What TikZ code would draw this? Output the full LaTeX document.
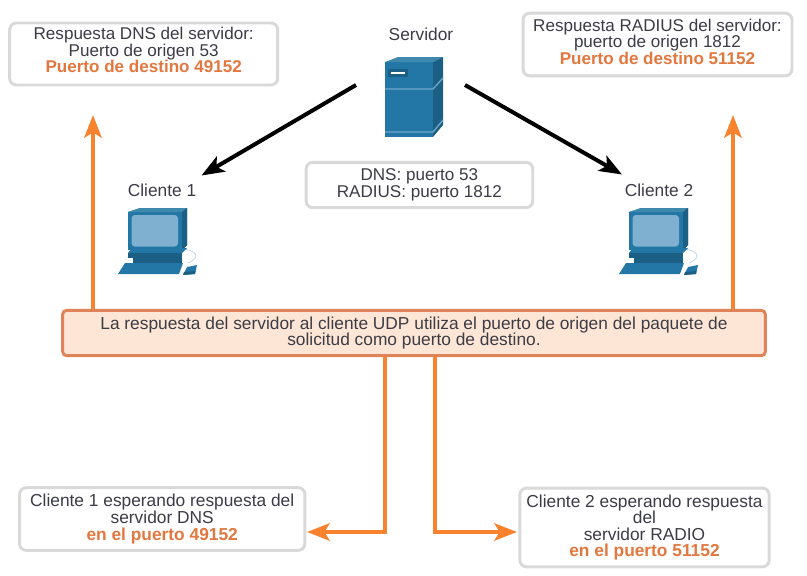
\documentclass[tikz,border=0pt]{standalone}
\usepackage{fontspec}
\setmainfont{Liberation Sans}
\usetikzlibrary{arrows.meta}

\definecolor{boxgray}{HTML}{D9D9D9}
\definecolor{txtgray}{HTML}{3C3C46}
\definecolor{linkorange}{HTML}{F8822E}
\definecolor{noteorange}{HTML}{E08358}
\definecolor{notefill}{HTML}{FDE6D6}
\definecolor{hiorange}{HTML}{E2783F}
\definecolor{hwfront}{HTML}{2277A6}
\definecolor{hwtop}{HTML}{3F88AE}
\definecolor{hwside}{HTML}{1B5F85}
\definecolor{hwscreen}{HTML}{7FB0D0}
\definecolor{hwline}{HTML}{6FA8C8}

\newcommand{\hilite}[1]{\textcolor{hiorange}{\bfseries #1}}

\tikzset{every picture/.style={line width=0.75pt}}
\tikzset{
  infobox/.style={draw=boxgray,line width=2.2pt,rounded corners=5pt,fill=white,align=center,text=txtgray,font=\fontsize{13}{12.4}\selectfont,inner sep=0pt},
  topbox/.style={infobox,font=\fontsize{12.8}{12.4}\selectfont},
  notebox/.style={draw=noteorange,line width=2.2pt,rounded corners=3pt,fill=notefill,align=center,text=txtgray,font=\fontsize{13}{12.4}\selectfont,inner sep=0pt},
  hostlabel/.style={text=txtgray,font=\fontsize{13}{12.4}\selectfont,inner sep=0.75pt},
  blackarrow/.style={draw=black,line width=3pt,-{Stealth[length=17pt,width=13pt,inset=4pt]}},
  orangearrow/.style={draw=linkorange,line width=3pt,-{Stealth[length=17pt,width=13pt,inset=4pt]}},
  pics/cliente/.style={code={
    \begin{scope}[yscale=-1]
    %cable
    \draw[hwline!50,line width=0.5pt] (0,41) .. controls (14,42) and (20,49) .. (6,55);
    %monitor
    \fill[hwfront] (-54,4) -- (-42,0) -- (5,0) -- (5,37) -- (0,42) -- (-54,42) -- cycle;
    \fill[hwtop] (-54,4) -- (-42,0) -- (5,0) -- (0,4) -- cycle;
    \fill[hwside] (0,4) -- (5,0) -- (5,37) -- (0,42) -- cycle;
    \fill[hwscreen,rounded corners=2.5pt] (-50.5,7) rectangle (-4,38.5);
    %base
    \fill[hwfront] (-54,45) -- (-50,40) -- (5,40) -- (0,45) -- cycle;
    \fill[hwside] (-54,45) rectangle (0,50);
    \fill[hwside] (-49,50) rectangle (0,55);
    %keyboard
    \fill[hwfront] (-64,66) -- (-57,55) -- (1,55) -- (-3,66) -- cycle;
    %mouse
    \fill[hwfront] (1,67) -- (5,59) -- (15,57) -- (13,66) -- cycle;
    \fill[hwside] (1,67) -- (13,66) -- (13.5,63) -- (2,64) -- cycle;
    \end{scope}
  }}
}

\begin{document}
\begin{tikzpicture}[x=0.75pt,y=0.75pt,yscale=-1,xscale=1]
\useasboundingbox (0,0) rectangle (807,575);

%Server
\fill[hwfront] (385,62) rectangle (433,137);
\fill[hwtop] (385,62) -- (398,57) -- (443,57) -- (433,62) -- cycle;
\fill[hwside] (433,62) -- (443,57) -- (443,125) -- (433,137) -- cycle;
\draw[hwline,line width=1pt] (385,89) -- (433,89) -- (443,78);
\draw[hwline,line width=1pt] (385,132) -- (433,132) -- (443,120);
\fill[hwside] (388,69) rectangle (408,77);
\fill[white] (391,71.5) rectangle (405,73.7);

%Clients
\pic at (182,208) {cliente};
\pic at (683,208) {cliente};

% Text Node
\node (servidor) [hostlabel] at (421,34) {Servidor};
\node (cliente1) [hostlabel] at (162,190) {Cliente 1};
\node (cliente2) [hostlabel] at (659,190) {Cliente 2};

% Boxes
\node (dnsresp) [topbox,minimum width=201pt,minimum height=46.5pt,text depth=5.7pt] at (143.7,54) {Respuesta DNS del servidor:\\Puerto de origen 53\\\hilite{Puerto de destino 49152}};
\node (radresp) [topbox,minimum width=201.7pt,minimum height=47pt,text depth=4.2pt] at (657.5,44.5) {Respuesta RADIUS del servidor:\\puerto de origen 1812\\\hilite{Puerto de destino 51152}};
\node (puertos) [topbox,minimum width=170pt,minimum height=34pt] at (419.4,185) {DNS: puerto 53\\RADIUS: puerto 1812};
\node (nota) [notebox,minimum width=527pt,minimum height=34pt] at (414,333) {La respuesta del servidor al cliente UDP utiliza el puerto de origen del paquete de\\solicitud como puerto de destino.};
\node (espera1) [infobox,minimum width=214pt,minimum height=47pt] at (162.2,519) {Cliente 1 esperando respuesta del\\servidor DNS\\\hilite{en el puerto 49152}};
\node (espera2) [infobox,minimum width=187pt,minimum height=59pt] at (644.5,527.5) {Cliente 2 esperando respuesta\\del\\servidor RADIO\\\hilite{en el puerto 51152}};

% Connector ends
\coordinate (srvleft) at (356,85);
\coordinate (srvright) at (465,85);
\coordinate (cli1end) at (201.5,175.5);
\coordinate (cli2end) at (622,174.5);
\coordinate (up1end) at (93,115);
\coordinate (up2end) at (733,115);
\coordinate (down1turn) at (384.5,532);
\coordinate (down2turn) at (434.5,532);
\coordinate (down1end) at (307,532);
\coordinate (down2end) at (517,532);

% Arrows
\draw[blackarrow] (srvleft) -- (cli1end);
\draw[blackarrow] (srvright) -- (cli2end);
\draw[orangearrow] (nota.north -| up1end) -- (up1end);
\draw[orangearrow] (nota.north -| up2end) -- (up2end);
\draw[orangearrow] (nota.south -| down1turn) -- (down1turn) -- (down1end);
\draw[orangearrow] (nota.south -| down2turn) -- (down2turn) -- (down2end);

\end{tikzpicture}
\end{document}
